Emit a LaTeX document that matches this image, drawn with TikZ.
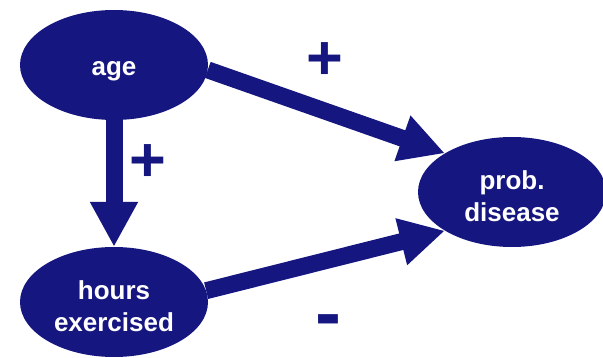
\documentclass[tikz,border=0pt]{standalone}
\usepackage{fontspec}
\setmainfont{Liberation Sans}
\usetikzlibrary{arrows.meta, shapes.geometric}
\definecolor{navy}{RGB}{22,22,128}

\begin{document}
\begin{tikzpicture}[x=1pt, y=-1pt,
    var/.style={ellipse, fill=navy, text=white, inner sep=0pt,
      minimum width=188pt, minimum height=110pt, align=center,
      font=\fontsize{26}{32}\selectfont\bfseries},
    conn/.style={navy, line width=17pt,
      -{Triangle[length=45pt, width=45pt]}},
    sign/.style={text=navy, inner sep=0pt, font=\bfseries}]
  \useasboundingbox (0,0) rectangle (603,358);

  % Draw the three variables
  \node[var, text height=26pt] (age) at (114,65) {age};
  \node[var, text height=59pt] (hours) at (114,302) {hours\\exercised};
  \node[var, text height=59pt] (prob) at (512,192) {prob.\\disease};

  % Connect them
  \draw[conn] (age.south) -- (hours.north);
  \draw[conn] (age.-3) -- (prob.150);
  \draw[conn] (hours.7) -- (prob.210);

  % Signs of the effects
  \node[sign, font=\fontsize{63}{63}\selectfont\bfseries] (plusA) at (325,61) {+};
  \node[sign, font=\fontsize{63}{63}\selectfont\bfseries] (plusB) at (148,163) {+};
  \node[sign, font=\fontsize{78}{78}\selectfont\bfseries] (minus) at (328,327) {-};

\end{tikzpicture}
\end{document}
